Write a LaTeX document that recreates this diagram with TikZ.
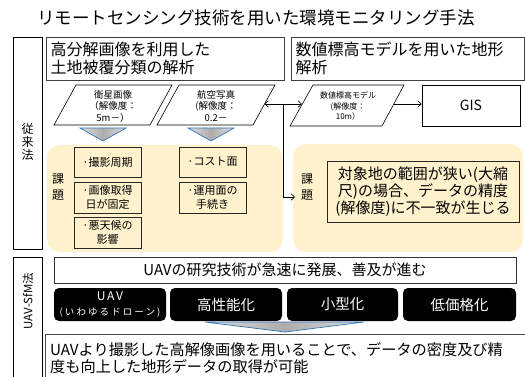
\documentclass[tikz,border=0pt]{standalone}
\usepackage{fontspec}
\setmainfont{Noto Sans CJK JP}
\usetikzlibrary{arrows.meta}
\definecolor{paleyel}{HTML}{FFF2CC}
\definecolor{triblue}{HTML}{2E75B6}
\tikzset{
  hbox/.style={draw=black!75, line width=0.9pt, fill=white, inner xsep=4pt, align=left, anchor=center,
    font=\fontsize{16}{18}\selectfont},
  colbox/.style={draw=black, line width=0.7pt, fill=white, inner sep=0pt},
  yreg/.style={fill=paleyel, rounded corners=13pt, draw=none, inner sep=0pt},
  para/.style={draw=black, line width=0.6pt, fill=white},
  ptext/.style={align=center, inner sep=0pt, font=\fontsize{9.5}{11.5}\selectfont},
  ibox/.style={draw=black!85, line width=0.8pt, minimum width=67, inner sep=1pt, align=center,
    font=\fontsize{11}{14}\selectfont},
  kadai/.style={align=center, inner sep=0pt, font=\fontsize{12}{16}\selectfont},
  blk/.style={fill=black, rounded corners=5pt, text=white, minimum height=33, align=center, inner sep=1pt,
    font=\fontsize{14.5}{16}\selectfont},
  arr/.style={-{Straight Barb[length=3.5pt,width=6.5pt]}, line width=0.6pt},
  darr/.style={{Straight Barb[length=3.5pt,width=6.5pt]}-{Straight Barb[length=3.5pt,width=6.5pt]}, line width=0.6pt},
  tri/.style={draw=triblue, line width=0.7pt, left color=gray!25, right color=gray!25, middle color=gray!65}
}
\begin{document}
\begin{tikzpicture}[x=1pt,y=-1pt]
\useasboundingbox (0,0) rectangle (525,377);
\clip (0,0) rectangle (525,377);

% title
\node[font=\fontsize{17.5}{20}\selectfont, inner sep=0pt] (title) at (256,18)
  {リモートセンシング技術を用いた環境モニタリング手法};

% left column (conventional)
\node[colbox, minimum width=29, minimum height=212] (conv) at (27.5,143) {};
\node[align=center, inner sep=0pt, font=\fontsize{12}{13}\selectfont] (convt) at (27.5,142) {従\\来\\法};

% headers
\node[hbox, minimum width=238, minimum height=43, text width=229] (h1) at (165,58.5)
  {高分解画像を利用した\\土地被覆分類の解析};
\node[hbox, minimum width=233, minimum height=43, text width=224] (h2) at (407.5,58.5)
  {数値標高モデルを用いた地形\\解析};

% yellow regions
\node[yreg, minimum width=236, minimum height=107] (yl) at (165,198.5) {};
\node[yreg, minimum width=230, minimum height=108] (yr) at (408,198) {};

% parallelograms
\draw[para] (54,125) -- (76,85) -- (172,85) -- (150,125) -- cycle;
\node[ptext] (p1) at (113,106) {衛星画像\\（解像度：\\5m－）};
\draw[para] (157,125) -- (179,85) -- (275,85) -- (253,125) -- cycle;
\node[ptext] (p2) at (216,106) {航空写真\\(解像度：\\0.2－};
\draw[para] (290,126) -- (313,85) -- (404,85) -- (382,126) -- cycle;
\node[ptext, font=\fontsize{8}{10.5}\selectfont] (p3) at (348,106) {数値標高モデル\\(解像度：\\10m）};

% GIS
\node[draw=black, line width=0.7pt, fill=white, minimum width=98, minimum height=41,
  font=\fontsize{14}{16}\selectfont] (gis) at (471,105.5) {GIS};

% down triangles
\shadedraw[tri] (80,128) -- (126,128) -- (103,141) -- cycle;
\shadedraw[tri] (188,128) -- (234,128) -- (211,141) -- cycle;

% issue boxes left
\node[ibox, minimum height=30] (i1) at (107.5,162) {·撮影周期};
\node[ibox, minimum height=31] (i2) at (107.5,197.5) {·画像取得\\日が固定};
\node[ibox, minimum height=31] (i3) at (107.5,232.5) {·悪天候の\\影響};
\node[ibox, minimum height=30] (i4) at (212.5,162) {·コスト面};
\node[ibox, minimum height=31] (i5) at (212.5,197.5) {·運用面の\\手続き};
\node[kadai] (kl) at (58,187.5) {課\\題};

% right issue
\node[kadai] (kr) at (307,187.5) {課\\題};
\node[draw=black!85, line width=0.8pt, minimum width=192, minimum height=61, align=center, inner sep=1pt,
  font=\fontsize{15}{17}\selectfont] (ir) at (423,191.5)
  {対象地の範囲が狭い(大縮\\尺)の場合、データの精度\\(解像度)に不一致が生じる};

% arrows
\coordinate (p2r) at (264.5,104);
\coordinate (p3l) at (302,104);
\coordinate (p3r) at (394,104);
\coordinate (jn) at (283,104);
\coordinate (krin) at (295,197);
\draw[darr] (p2r) -- (p3l);
\draw[arr] (p3r) -- (p3r -| gis.west);
\draw[line width=0.6pt, -{Straight Barb[length=3.5pt,width=6.5pt]}] (jn) |- (krin);

% UAV-SfM section
\node[colbox, minimum width=29, minimum height=140, anchor=north] (sfm) at (27.5,257) {};
\node[rotate=90, inner sep=0pt, font=\fontsize{11.5}{13}\selectfont] (sfmt) at (28,301) {UAV-SfM法};

\node[draw=black!80, line width=0.8pt, fill=white, minimum width=462, minimum height=26, inner sep=0pt,
  font=\fontsize{15}{17}\selectfont] (wide) at (285,270) {UAVの研究技術が急速に発展、善及が進む};

\node[blk, minimum width=112] (b1) at (110,304.5)
  {{\fontsize{12}{13}\selectfont\addfontfeatures{LetterSpace=15}UAV}\\[-1pt]{\fontsize{9.5}{10}\selectfont\addfontfeatures{LetterSpace=22}(いわゆるドローン)}};
\node[blk, minimum width=112] (b2) at (226,304.5) {高性能化};
\node[blk, minimum width=111] (b3) at (342.5,304.5) {小型化};
\node[blk, minimum width=113] (b4) at (459.5,304.5) {低価格化};

\shadedraw[tri] (205,322) -- (364,322) -- (285,332) -- cycle;

\node[draw=black!70, line width=0.9pt, fill=white, minimum width=500, minimum height=60, anchor=north west,
  inner sep=0pt] (bot) at (45,334) {};
\node[anchor=west, align=left, inner sep=0pt, font=\fontsize{15.2}{17}\selectfont] (bott) at (50,358.5)
  {UAVより撮影した高解像画像を用いることで、データの密度及び精\\度も向上した地形データの取得が可能};
\end{tikzpicture}
\end{document}
